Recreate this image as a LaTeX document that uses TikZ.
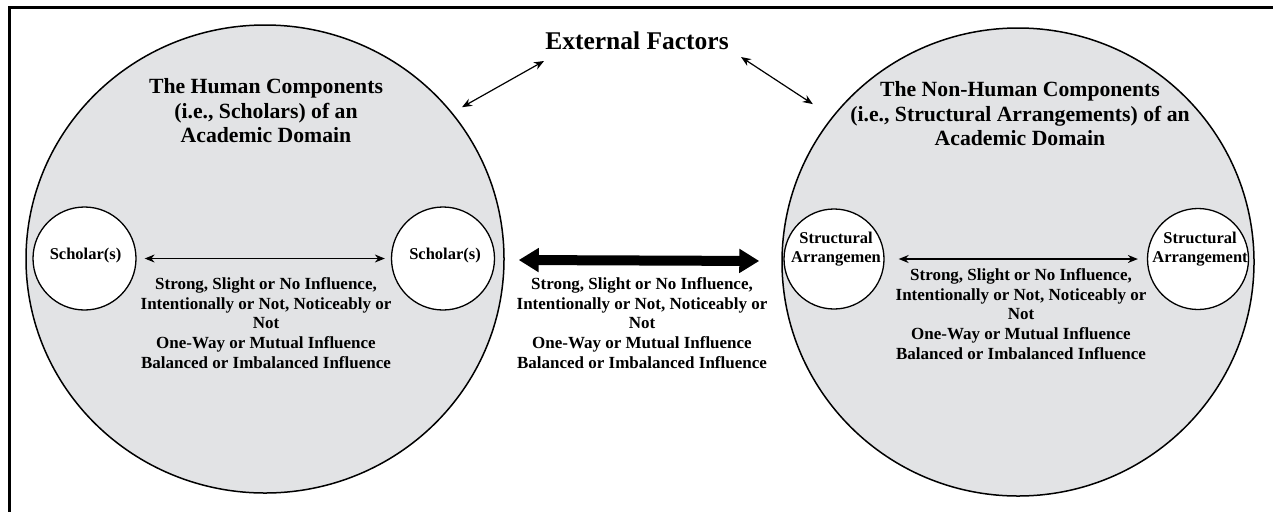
\documentclass[tikz,border=0pt]{standalone}
\usepackage{fontspec}
\setmainfont{Liberation Serif}
\usetikzlibrary{arrows.meta,shapes.geometric}
\definecolor{cfill}{RGB}{226,227,229}
\begin{document}
\begin{tikzpicture}[x=1pt,y=-1pt,
  bigcirc/.style={ellipse, draw, line width=1.5pt, fill=cfill, inner sep=0pt},
  smallcirc/.style={circle, draw, line width=1.3pt, fill=white, inner sep=0pt},
  lbltext/.style={font=\fontsize{16.5}{18.5}\selectfont\bfseries, align=center, inner sep=0pt},
  bodytext/.style={font=\fontsize{17}{19.8}\selectfont\bfseries, align=center, inner sep=0pt},
  titletext/.style={font=\fontsize{21.7}{24.5}\selectfont\bfseries, align=center, inner sep=0pt},
  exttext/.style={font=\fontsize{25.5}{30}\selectfont\bfseries, inner sep=0pt},
  arrthin/.style={{Stealth[length=10pt,width=8pt]}-{Stealth[length=10pt,width=8pt]}, line width=1.2pt},
  arrthick/.style={{Triangle[length=20pt,width=23pt]}-{Triangle[length=20pt,width=23pt]}, line width=10pt},
]
\useasboundingbox (0,0) rectangle (1273,512);
\fill[white] (0,0) rectangle (1273,512);
% frame
\draw[line width=3pt, line join=miter] (1273,7) -- (9,7) -- (9,512);

% big circles
\node[bigcirc, minimum width=478pt, minimum height=468pt] (bigL) at (265,259) {};
\node[bigcirc, minimum width=472pt, minimum height=468pt] (bigR) at (1018,262) {};

% small circles
\node[smallcirc, minimum size=103pt] (sL1) at (84.5,258.5) {};
\node[smallcirc, minimum size=103pt] (sL2) at (443,258.5) {};
\node[smallcirc, minimum size=100pt] (sR1) at (834,259) {};
\node[smallcirc, minimum size=101pt] (sR2) at (1198,259) {};

% labels in small circles
\node[lbltext] (lL1) at (85.5,256) {Scholar(s)};
\node[lbltext] (lL2) at (445,256) {Scholar(s)};
\node[lbltext] (lR1) at (836,249) {Structural\\Arrangemen};
\node[lbltext] (lR2) at (1200,249) {Structural\\Arrangement};

% titles
\node[titletext] (tL) at (266,111) {The Human Components\\(i.e., Scholars) of an\\Academic Domain};
\node[titletext] (tR) at (1020,114) {The Non-Human Components\\(i.e., Structural Arrangements) of an\\Academic Domain};

% external factors
\node[exttext] (ext) at (637,41) {External Factors};
\coordinate (eA) at (544,61);
\coordinate (eB) at (741,57);

% body texts
\node[bodytext] (bL) at (266,323) {Strong, Slight or No Influence,\\Intentionally or Not, Noticeably or\\Not\\One-Way or Mutual Influence\\Balanced or Imbalanced Influence};
\node[bodytext] (bC) at (642,323) {Strong, Slight or No Influence,\\Intentionally or Not, Noticeably or\\Not\\One-Way or Mutual Influence\\Balanced or Imbalanced Influence};
\node[bodytext] (bR) at (1021,314) {Strong, Slight or No Influence,\\Intentionally or Not, Noticeably or\\Not\\One-Way or Mutual Influence\\Balanced or Imbalanced Influence};

% connectors
\draw[arrthin, shorten <=8pt, shorten >=6pt] (sL1) -- (sL2);
\draw[arrthin, shorten <=14pt, shorten >=9pt] (sR1) -- (sR2);
\draw[arrthick, shorten <=14pt, shorten >=22pt] (bigL) -- (bigR);
\draw[arrthin, shorten >=11pt] (eA) -- (bigL.38);
\draw[arrthin, shorten >=23pt] (eB) -- (bigR.142);
\end{tikzpicture}
\end{document}
